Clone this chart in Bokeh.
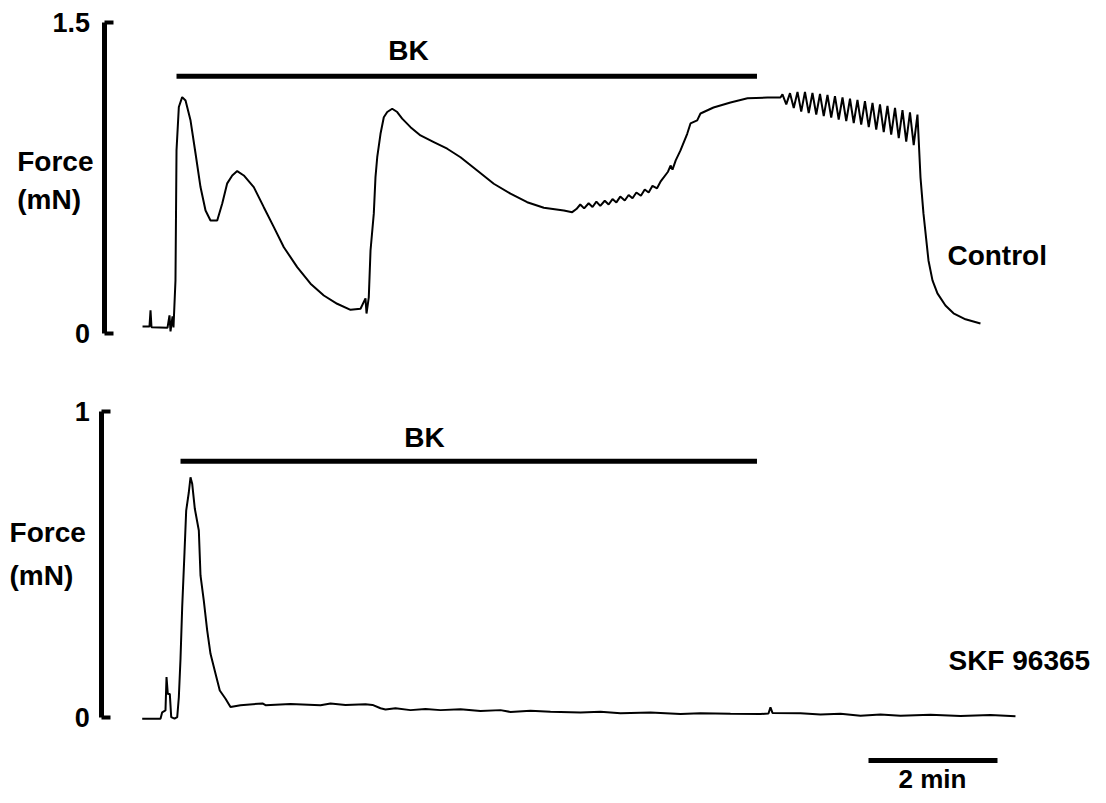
from bokeh.plotting import figure
from bokeh.models import Range1d, LinearAxis, FixedTicker
from bokeh.core.properties import value
from bokeh.embed import file_html
from bokeh.resources import INLINE

# ---------------- data (time in min, force in mN) ----------------
ctrl_t = [-0.527, -0.419, -0.403, -0.388, -0.140, -0.109, -0.093, -0.062, -0.047, -0.016,
          0.000, 0.036, 0.088, 0.140, 0.217, 0.295, 0.372, 0.450, 0.527, 0.631,
          0.709, 0.786, 0.864, 0.941, 1.043, 1.198, 1.353, 1.509, 1.664, 1.871,
          2.078, 2.284, 2.491, 2.698, 2.853, 2.930, 2.946, 2.981, 3.008, 3.059,
          3.085, 3.112, 3.163, 3.214, 3.267, 3.344, 3.422, 3.499, 3.628, 3.783,
          3.989, 4.197, 4.403, 4.662, 4.919, 5.178, 5.437, 5.695, 6.005, 6.135,
          6.20, 6.26, 6.32, 6.39, 6.45, 6.51, 6.57, 6.64, 6.70, 6.76, 6.82, 6.88,
          6.95, 7.01, 7.07, 7.13, 7.20, 7.26, 7.32, 7.38, 7.45, 7.51,
          7.62, 7.66, 7.69, 7.74, 7.814, 7.918, 7.969, 8.073, 8.124, 8.326, 8.589,
          8.853, 9.163, 9.364,
          9.395, 9.454, 9.512, 9.570, 9.628, 9.686, 9.744, 9.802, 9.860, 9.919,
          9.977, 10.035, 10.093, 10.151, 10.209, 10.267, 10.326, 10.384, 10.442,
          10.500, 10.558, 10.616, 10.674, 10.733, 10.791, 10.849, 10.907, 10.965,
          11.023, 11.081, 11.140, 11.198, 11.256, 11.314, 11.372, 11.430, 11.488,
          11.504, 11.535, 11.581, 11.659, 11.721, 11.798, 11.922, 12.047, 12.233, 12.465]
ctrl_f = [0.034, 0.034, 0.111, 0.030, 0.027, 0.087, 0.010, 0.082, 0.029, 0.256,
          0.883, 1.092, 1.140, 1.124, 1.028, 0.868, 0.706, 0.593, 0.545, 0.545,
          0.627, 0.724, 0.762, 0.783, 0.762, 0.706, 0.609, 0.513, 0.416, 0.320,
          0.240, 0.183, 0.143, 0.114, 0.119, 0.169, 0.096, 0.174, 0.400, 0.579,
          0.754, 0.850, 0.963, 1.043, 1.068, 1.084, 1.068, 1.036, 0.995, 0.955,
          0.923, 0.891, 0.850, 0.786, 0.722, 0.674, 0.633, 0.606, 0.593, 0.585,
          0.600, 0.622, 0.603, 0.628, 0.610, 0.636, 0.615, 0.640, 0.622, 0.648, 0.632, 0.660,
          0.641, 0.668, 0.652, 0.680, 0.664, 0.694, 0.680, 0.712, 0.700, 0.735,
          0.780, 0.810, 0.790, 0.835, 0.883, 0.963, 1.013, 1.028, 1.061, 1.090, 1.114,
          1.134, 1.138, 1.138,
          1.153, 1.105, 1.159, 1.087, 1.165, 1.070, 1.165, 1.063, 1.160, 1.056,
          1.155, 1.048, 1.150, 1.041, 1.145, 1.032, 1.138, 1.024, 1.132,
          1.015, 1.126, 1.007, 1.120, 0.995, 1.112, 0.983, 1.105, 0.971,
          1.098, 0.959, 1.088, 0.942, 1.077, 0.925, 1.066, 0.908, 1.056,
          0.955, 0.753, 0.579, 0.352, 0.256, 0.193, 0.135, 0.097, 0.068, 0.048]

skf_t = [-0.532, -0.248, -0.222, -0.171, -0.155, -0.135, -0.104, -0.082, -0.031, 0.011,
         0.036, 0.062, 0.088, 0.124, 0.150, 0.191, 0.217, 0.243, 0.284, 0.346,
         0.372, 0.423, 0.476, 0.527, 0.605, 0.671, 0.760, 0.837,
         0.992, 1.333, 1.380, 1.767, 2.233, 2.388, 2.620, 2.930, 3.039, 3.163,
         3.240, 3.395, 3.628, 3.860, 4.093, 4.403, 4.713, 5.023, 5.178, 5.488,
         5.798, 6.264, 6.574, 6.884, 7.349, 7.814, 8.124, 8.589, 9.054, 9.178,
         9.209, 9.240, 9.674, 9.984, 10.295, 10.605, 10.915, 11.225, 11.690, 12.155,
         12.620, 13.008]
skf_f = [-0.004, -0.004, 0.017, 0.023, 0.132, 0.077, 0.077, 0.001, -0.004, 0.001,
         0.066, 0.192, 0.360, 0.540, 0.676, 0.736, 0.785, 0.764, 0.682, 0.611,
         0.464, 0.382, 0.284, 0.208, 0.143, 0.088, 0.061, 0.034,
         0.040, 0.046, 0.040, 0.044, 0.040, 0.046, 0.041, 0.043, 0.041, 0.030,
         0.026, 0.030, 0.024, 0.028, 0.024, 0.027, 0.021, 0.024, 0.018, 0.022,
         0.019, 0.016, 0.019, 0.014, 0.016, 0.011, 0.014, 0.012, 0.011, 0.013,
         0.033, 0.015, 0.014, 0.010, 0.012, 0.006, 0.010, 0.006, 0.009, 0.005,
         0.008, 0.004]

bk_top_t = [0.0, 9.0]      # BK application, control
bk_top_f = [1.24, 1.24]
bk_bot_t = [0.062, 9.0]    # BK application, SKF 96365
bk_bot_f = [0.837, 0.837]
scale_t = [10.729, 12.729]  # 2 min scale bar
scale_f = [-0.1405, -0.1405]

top_ticks = [0, 1.5]
bot_ticks = [0, 1]

FONT = value("Liberation Sans")

p = figure(width=1090, height=795, output_backend="svg", toolbar_location=None,
           x_range=Range1d(-2.729, 14.171), y_range=Range1d(-2.229, 1.606),
           x_axis_type=None, y_axis_type=None, min_border=0,
           outline_line_color=None, background_fill_color="white")
p.extra_y_ranges = {"bot": Range1d(-0.255, 2.343)}
p.xgrid.visible = False
p.ygrid.visible = False


def add_axis(loc, ticks, labels, rng, standoff):
    ax = LinearAxis(fixed_location=loc, bounds=(ticks[0], ticks[-1]),
                    ticker=FixedTicker(ticks=ticks),
                    major_label_overrides=labels,
                    axis_line_width=5, axis_line_color="black",
                    major_tick_in=9, major_tick_out=0,
                    major_tick_line_width=4, major_tick_line_color="black",
                    minor_tick_line_color=None,
                    major_label_standoff=standoff,
                    major_label_text_font="Liberation Sans",
                    major_label_text_font_style="bold",
                    major_label_text_font_size="27px",
                    major_label_text_color="black")
    if rng:
        ax.y_range_name = rng
    p.add_layout(ax, "left")


add_axis(-1.109, top_ticks, {0: "0", 1.5: "1.5"}, None, 15)
add_axis(-1.158, bot_ticks, {0: "0", 1: "1"}, "bot", 12)

# traces
p.line(ctrl_t, ctrl_f, line_color="black", line_width=2)
p.line(skf_t, skf_f, line_color="black", line_width=2, y_range_name="bot")

# BK bars and scale bar
p.line(bk_top_t, bk_top_f, line_color="black", line_width=5)
p.line(bk_bot_t, bk_bot_f, line_color="black", line_width=5, y_range_name="bot")
p.line(scale_t, scale_f, line_color="black", line_width=5, y_range_name="bot")

txt = dict(text_font=FONT, text_font_style="bold", text_font_size="28px",
           text_color="black", text_baseline="middle")

p.text(x=[-2.470, -2.470], y=[0.83, 0.645], text=["Force", "(mN)"], text_align="left", **txt)
p.text(x=[3.597], y=[1.365], text=["BK"], text_align="center", **txt)
p.text(x=[11.953], y=[0.376], text=["Control"], text_align="left", **txt)

p.text(x=[-2.589, -2.589], y=[0.605, 0.464], text=["Force", "(mN)"], text_align="left",
       y_range_name="bot", **txt)
p.text(x=[3.845], y=[0.915], text=["BK"], text_align="center", y_range_name="bot", **txt)
p.text(x=[11.969], y=[0.186], text=["SKF 96365"], text_align="left", y_range_name="bot", **txt)

txt_small = dict(txt, text_font_size="26px")
p.text(x=[11.721], y=[-0.200], text=["2 min"], text_align="center", y_range_name="bot", **txt_small)

open("out.html", "w").write(file_html(p, INLINE))
